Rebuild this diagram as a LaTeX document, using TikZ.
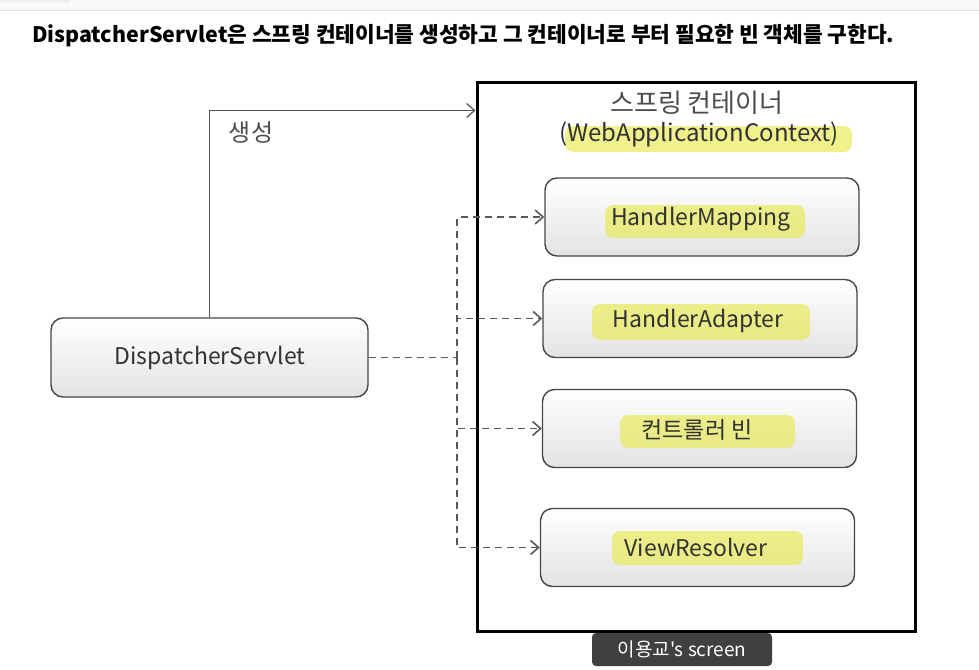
\documentclass[tikz,border=0pt]{standalone}
\usepackage{fontspec}
\setmainfont{Noto Sans CJK KR}
\newfontfamily\tagfont{Noto Sans CJK KR}[Ligatures=TeXOff]
\usepackage{xcolor}
\usetikzlibrary{positioning, arrows.meta}

\definecolor{marker}{RGB}{232,234,80}
\definecolor{inkgray}{RGB}{50,50,50}

\begin{document}
\begin{tikzpicture}[
    x=0.5pt, y=-0.5pt,
    bean/.style={rectangle, draw=gray!55!black, line width=0.7pt, rounded corners=6pt, top color=white, bottom color=gray!22, minimum width=157pt, minimum height=39pt},
    beantext/.style={text=inkgray, font=\fontsize{11.5}{13}\selectfont},
    hilite/.style={fill=marker, opacity=0.65, rounded corners=4pt},
    container/.style={rectangle, draw=black, line width=1.5pt, minimum width=219pt, minimum height=274.5pt},
    create/.style={draw=gray!65!black, line width=0.6pt, -{Straight Barb[length=4pt,width=7pt]}},
    uses/.style={draw=gray!70!black, line width=0.8pt, dashed, dash pattern=on 3.5pt off 2.5pt},
    usesarrow/.style={uses, -{Straight Barb[length=4pt,width=7pt]}}
]
\useasboundingbox (0,0) rectangle (979,669);

% browser strip
\fill[gray!5] (0,0) rectangle (979,10);
\fill[gray!12] (0,0) rectangle (70,3);
\draw[gray!25, line width=0.4pt] (0,10) -- (979,10);

\node[anchor=west, font=\bfseries\fontsize{10.7}{12}\selectfont] (caption) at (25,36) {DispatcherServlet은 스프링 컨테이너를 생성하고 그 컨테이너로 부터 필요한 빈 객체를 구한다.};

% spring container
\node[container] (ctx) at (696,356.5) {};
\node[text=gray!60!black, font=\fontsize{13}{14}\selectfont] (ctxname) at (697,103) {스프링 컨테이너};
\fill[hilite] (565,126) rectangle (852,152);
\node[text=inkgray, font=\fontsize{12}{13}\selectfont] (ctxtype) at (699,134) {(WebApplicationContext)};

% beans
\node[bean] (mapping) at (702,217) {};
\fill[hilite] (605,205) rectangle (805,238);
\node[beantext] (mappingtxt) at (701,219) {HandlerMapping};

\node[bean] (adapter) at (700,318.5) {};
\fill[hilite] (592,304) rectangle (810,340);
\node[beantext] (adaptertxt) at (698,321) {HandlerAdapter};

\node[bean] (controller) at (699.5,428.5) {};
\fill[hilite] (620,415) rectangle (795,448);
\node[beantext] (controllertxt) at (697,430) {컨트롤러 빈};

\node[bean] (resolver) at (697.5,547.5) {};
\fill[hilite] (612,531) rectangle (803,565);
\node[beantext] (resolvertxt) at (696,547) {ViewResolver};

% dispatcher
\node[bean, minimum width=158.5pt, minimum height=39.5pt] (servlet) at (209.5,357.5) {};
\node[beantext] (servlettxt) at (210,358) {DispatcherServlet};

% create
\draw[create] (servlet.north) |- ([yshift=-15pt]ctx.north west);
\node[text=gray!60!black, font=\fontsize{12}{13}\selectfont] (createlbl) at (251,132) {생성};

% lookups
\coordinate (bus) at (457,357.5);
\draw[uses] (servlet.east) -- (bus);
\draw[usesarrow] (bus) |- (mapping.west);
\draw[usesarrow] (bus) |- (adapter.west);
\draw[usesarrow] (bus) |- (controller.west);
\draw[usesarrow] (bus) |- (resolver.west);

% screen tag
\node[fill=gray!50!black, rounded corners=2pt, minimum width=90pt, minimum height=16.5pt, text=white, font=\tagfont\fontsize{9.5}{11}\selectfont] (tag) at (682,649.5) {이용교's screen};

\end{tikzpicture}
\end{document}
